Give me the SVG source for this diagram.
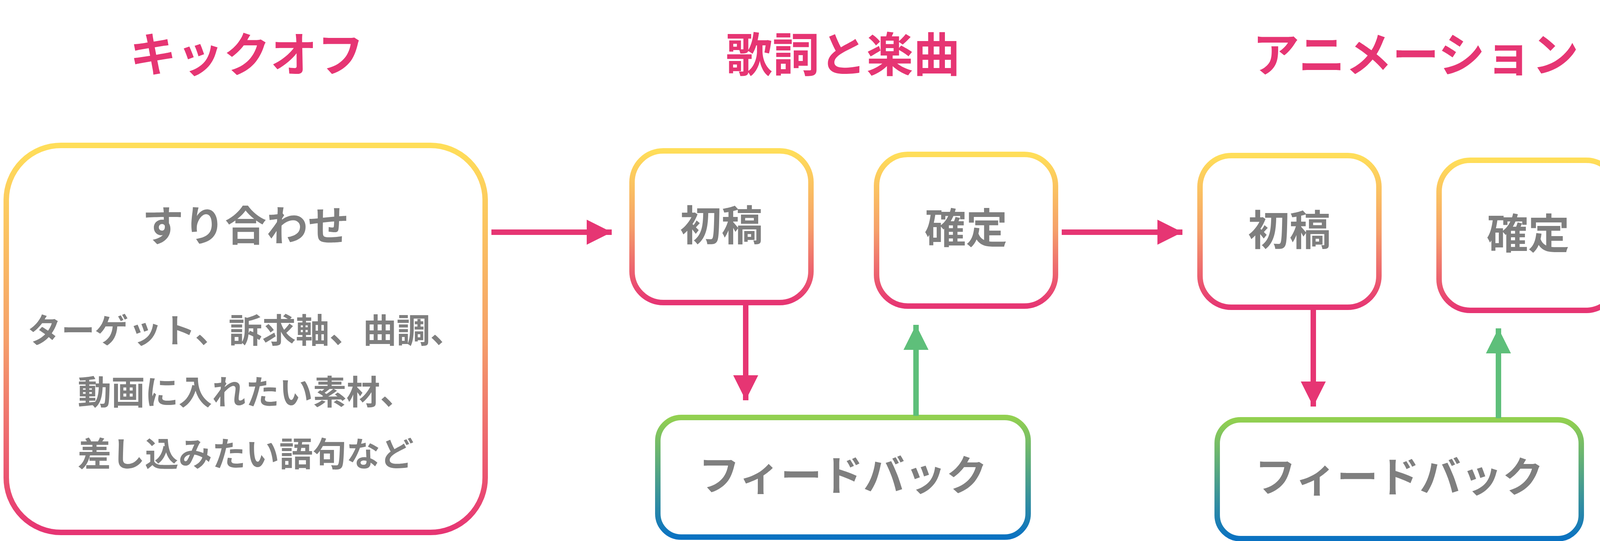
<svg xmlns="http://www.w3.org/2000/svg" width="4954" height="1384" viewBox="0 0 4954 1384">
<defs>
<linearGradient id="yp" x1="0" y1="0" x2="0" y2="1"><stop offset="0" stop-color="#FFDE59"/><stop offset="0.5" stop-color="#F5A06A"/><stop offset="1" stop-color="#E63573"/></linearGradient>
<linearGradient id="gb" x1="0" y1="0" x2="0" y2="1"><stop offset="0" stop-color="#92D050"/><stop offset="1" stop-color="#0A72C2"/></linearGradient>
<marker id="ap" viewBox="0 0 10 10" refX="10" refY="5" markerWidth="80" markerHeight="64" markerUnits="userSpaceOnUse" orient="auto"><path d="M0,0 L10,5 L0,10 z" fill="#E63573"/></marker>
<marker id="ag" viewBox="0 0 10 10" refX="10" refY="5" markerWidth="80" markerHeight="64" markerUnits="userSpaceOnUse" orient="auto"><path d="M0,0 L10,5 L0,10 z" fill="#5EBF7A"/></marker>
<style>
.t{font-family:"Noto Sans CJK JP","Noto Sans",sans-serif;font-weight:bold;fill:#E63573;font-size:120px;text-anchor:middle}
.b{font-family:"Noto Sans CJK JP","Noto Sans",sans-serif;font-weight:bold;fill:#7F7F7F;font-size:106px;text-anchor:middle}
.s{font-size:86px}
.n{fill:#fff;stroke:url(#yp);stroke-width:14}
.f{fill:#fff;stroke:url(#gb);stroke-width:14}
.cp{stroke:#E63573;stroke-width:14;fill:none}
.cg{stroke:#5EBF7A;stroke-width:14;fill:none}
</style>
</defs>
<text class="t" x="632" y="184">キックオフ</text>
<text class="t" x="2158" y="184">歌詞と楽曲</text>
<text class="t" x="3624" y="184">アニメーション</text>
<g id="kickoff"><rect class="n" x="16" y="372" width="1226" height="990" rx="140"/>
<text class="b" x="629" y="616">すり合わせ</text>
<text class="b s" x="629" y="877">ターゲット、訴求軸、曲調、</text>
<text class="b s" x="629" y="1035">動画に入れたい素材、</text>
<text class="b s" x="629" y="1193">差し込みたい語句など</text></g>
<g id="draft1"><rect class="n" x="1618" y="386" width="458" height="388" rx="80"/><text class="b" x="1847" y="615">初稿</text></g>
<g id="fix1"><rect class="n" x="2244" y="395" width="458" height="388" rx="80"/><text class="b" x="2473" y="622">確定</text></g>
<g id="fb1"><rect class="f" x="1684" y="1068" width="948" height="306" rx="60"/><text class="b" x="2158" y="1254">フィードバック</text></g>
<g id="draft2"><rect class="n" x="3072" y="398" width="458" height="388" rx="80"/><text class="b" x="3301" y="627">初稿</text></g>
<g id="fix2"><rect class="n" x="3684" y="410" width="456" height="384" rx="80"/><text class="b" x="3912" y="636">確定</text></g>
<g id="fb2"><rect class="f" x="3116" y="1074" width="932" height="304" rx="60"/><text class="b" x="3582" y="1258">フィードバック</text></g>
<g id="done"><rect class="n" x="4487" y="386" width="452" height="978" rx="90"/><text class="b" x="4661" y="915">完成</text></g>
<g id="connectors">
<line class="cp" x1="1258" y1="594" x2="1566" y2="594" marker-end="url(#ap)"/>
<line class="cp" x1="2718" y1="594" x2="3027" y2="594" marker-end="url(#ap)"/>
<line class="cp" x1="4149" y1="600" x2="4462" y2="600" marker-end="url(#ap)"/>
<line class="cp" x1="1909" y1="781" x2="1909" y2="1024" marker-end="url(#ap)"/>
<line class="cp" x1="3362" y1="793" x2="3362" y2="1040" marker-end="url(#ap)"/>
<line class="cg" x1="2345" y1="1064" x2="2345" y2="831" marker-end="url(#ag)"/>
<line class="cg" x1="3836" y1="1070" x2="3836" y2="840" marker-end="url(#ag)"/>
</g>
</svg>
